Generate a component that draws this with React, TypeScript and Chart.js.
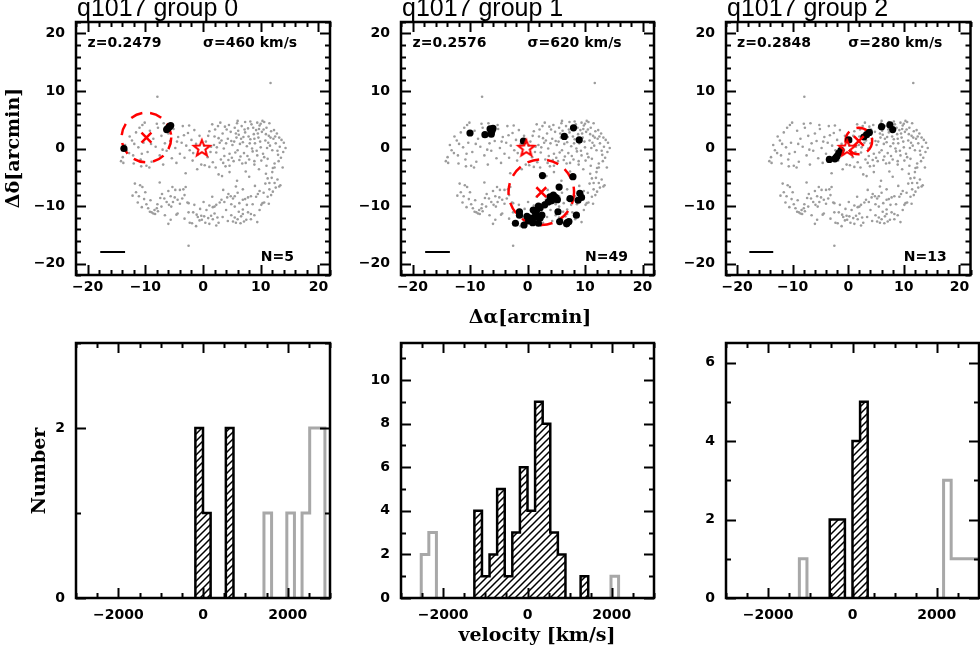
import React, { useEffect, useRef } from "react";
import { Chart, registerables } from "chart.js";
Chart.register(...registerables);

// ---------------- data ----------------
const GROUP_TITLES = ["q1017 group 0", "q1017 group 1", "q1017 group 2"];
const REDSHIFTS = ["0.2479", "0.2576", "0.2848"];
const SIGMAS = [460, 620, 280];
const N_MEMBERS = [5, 49, 13];
const CENTER_X = [-9.8, 2.4, 1.9];
const CENTER_Y = [1.9, -7.6, 1.3];
const RADII = [4.3, 5.7, 2.4];
const STAR_POS: [number, number] = [-0.2, 0.1];
const SCALE_BAR_X = [-17.8, -13.5];
const SCALE_BAR_Y = -18;

const BG_OUTLIERS: [number, number][] = [[11.7, 11.4], [-7.9, 9.0], [-2.5, -16.9]];
const BG_UPPER_LEFT: [number, number][] = [
  [-14.2, -2.2], [-13.9, -1.5], [-13.5, 0.6], [-12.8, -0.8], [-12.3, 1.4], [-12.0, -2.6], [-11.6, 2.8], [-11.2, 0.2],
  [-10.8, -1.9], [-10.5, 4.1], [-10.1, 4.5], [-10.3, 1.0], [-9.6, -0.6], [-9.2, 3.1], [-8.9, -2.3], [-8.6, 1.7],
  [-8.2, 0.3], [-7.8, 3.6], [-7.5, -1.2], [-7.2, 2.2], [-6.9, -2.8], [-6.6, 0.9], [-6.3, -0.4], [-6.0, 2.6],
  [-5.7, 1.3], [-5.4, -1.7], [-5.1, 3.4], [-4.8, 0.1], [-4.6, -2.5], [-4.3, 2.0], [-4.0, -0.9], [-3.7, 1.0],
  [-3.5, 3.9], [-3.2, -1.6], [-2.9, 0.5], [-2.6, 2.7], [-2.3, -0.3], [-2.0, 1.5], [-1.8, -2.1], [-1.5, 3.2],
  [-1.2, 0.8], [-0.9, -1.0], [-0.6, 2.2], [-0.3, -2.8], [-5.2, 4.1], [-6.8, 4.4], [-8.0, 4.3], [-11.0, 3.6],
  [-12.7, 2.1], [-9.8, -3.0], [-3.0, -4.3], [-1.0, -3.6], [-10.7, -3.1], [-9.3, -3.3], [-13.8, -2.5],
  [-13.2, -0.3], [-11.9, 0.8], [-10.6, -0.9], [-9.0, 0.8], [-7.0, -0.2], [-4.5, 1.2], [-3.3, 2.3], [-1.7, -0.8],
  [-2.4, 4.0], [-12.1, -1.2],
];
const BG_UPPER_RIGHT: [number, number][] = [
  [0.5, 1.2], [0.8, -1.5], [1.1, 3.0], [1.4, 0.3], [1.7, -2.4], [2.0, 2.1], [2.3, -0.7], [2.6, 3.9], [2.9, 1.0],
  [3.1, -1.9], [3.4, 2.6], [3.6, 0.0], [3.9, -3.1], [4.1, 3.3], [4.3, 1.7], [4.6, -0.9], [4.8, 2.9], [5.1, 0.6],
  [5.3, -2.2], [5.5, 3.6], [5.8, 1.9], [6.0, -0.3], [6.2, 2.4], [6.5, -1.4], [6.7, 3.9], [6.9, 1.1], [7.1, -0.8],
  [7.3, 2.8], [7.6, 0.4], [7.8, 3.5], [8.0, -1.9], [8.2, 1.6], [8.4, 4.2], [8.6, -0.5], [8.8, 2.5], [9.0, 0.9],
  [9.2, 3.2], [9.4, -1.2], [9.6, 1.9], [9.8, 4.0], [10.0, 0.2], [10.2, 2.9], [10.4, -0.9], [10.6, 4.6], [10.8, 1.4],
  [11.0, 3.6], [11.2, -1.8], [11.4, 2.2], [11.6, 0.5], [11.8, 3.0], [12.0, -0.3], [12.2, 1.7], [12.4, -2.6],
  [12.6, 0.9], [12.8, 2.6], [13.0, -1.1], [13.3, 0.3], [13.6, 1.5], [13.9, -0.6], [14.3, 0.1], [3.0, 4.5], [4.5, 4.1],
  [5.9, 4.4], [7.3, 4.6], [9.4, 4.5], [11.5, 4.4], [10.3, 4.8], [1.6, 4.2], [2.2, -3.3], [6.8, -2.6], [8.9, -2.8],
  [11.0, -3.0], [13.1, -2.2], [12.1, -3.4], [0.3, -2.9], [3.3, -4.8], [7.4, -4.0], [9.7, -3.6], [5.4, 1.2], [6.4, 0.8],
  [7.9, 2.1], [8.7, 3.6], [9.9, 1.2], [10.9, 2.5], [4.0, 0.9], [2.7, 1.8], [1.9, 0.6], [6.1, 3.1], [7.0, 2.0],
  [8.5, 0.0], [9.5, 2.6], [11.3, 1.0], [12.5, 2.1], [3.7, -1.3], [5.0, -1.6], [6.3, -2.0], [10.6, -1.5], [13.2, 1.9],
  [1.1, -3.2], [4.6, -3.0], [7.4, -2.5], [8.9, -2.2], [12.4, -3.3], [13.8, -3.3],
  [0.9, 2.2], [1.3, -0.6], [2.4, 0.2], [3.2, 1.4], [3.8, 3.8], [4.4, -2.0], [4.9, 1.3], [5.6, -0.7], [6.6, 1.7],
  [7.2, 3.3], [7.7, -1.3], [8.1, 0.9], [8.9, 1.7], [9.3, -0.4], [9.7, 3.4], [10.1, -2.1], [10.5, 3.3], [11.1, 0.1],
  [11.7, 1.9], [12.3, 3.2], [12.9, -0.4], [13.5, -1.6], [14.0, 1.0], [6.0, 4.8], [8.2, 4.7], [2.1, 3.3], [0.2, 0.5],
  [3.5, -2.5], [5.7, 2.6], [10.0, 4.3],
];
const BG_LOWER: [number, number][] = [
  [-10.9, -6.4], [-10.5, -6.7], [-7.5, -5.9], [-11.6, -7.6], [-11.1, -8.3], [-10.2, -8.8], [-11.3, -9.4], [-5.3, -6.7],
  [-4.8, -7.2], [-4.0, -7.2], [-3.4, -7.1], [-3.0, -6.7], [-7.1, -7.9], [-6.7, -8.7], [-6.3, -9.3], [-5.9, -9.8],
  [-5.5, -10.1], [-5.6, -8.3], [-4.9, -8.5], [-4.4, -8.9], [-5.2, -9.3], [-9.8, -9.7], [-9.5, -10.4], [-9.2, -11.0],
  [-8.9, -11.1], [-8.6, -11.3], [-8.4, -10.7], [-8.0, -10.4], [-7.9, -9.7], [-7.2, -10.1], [-7.8, -10.9], [-8.3, -11.4],
  [-3.6, -8.7], [-4.0, -9.6], [-2.7, -9.4], [-2.5, -9.5], [-4.4, -11.3], [-4.6, -11.5], [-5.6, -12.4], [-6.0, -13.1],
  [-2.5, -11.1], [-1.7, -11.1], [-1.1, -11.5], [-0.9, -11.9], [-0.3, -11.7], [-0.6, -12.5], [-2.3, -12.9], [-1.9, -13.0],
  [2.7, -4.5], [4.6, -4.1], [8.0, -4.9], [10.9, -4.4], [11.9, -5.1], [10.8, -6.1], [11.5, -6.0], [12.4, -6.0],
  [13.4, -6.4], [11.2, -5.2], [5.7, -6.6], [6.9, -7.1], [6.0, -7.7], [5.5, -8.3], [4.8, -8.3], [4.4, -7.9], [4.2, -8.5],
  [5.2, -8.7], [9.8, -7.4], [9.5, -7.9], [9.2, -8.4], [8.3, -8.3], [7.8, -8.5], [7.3, -8.8], [6.9, -8.9], [11.5, -7.1],
  [12.1, -7.5], [11.8, -8.1], [11.2, -8.4], [12.6, -6.8], [13.2, -6.6], [10.3, -9.5], [10.1, -9.8], [9.8, -10.7],
  [10.6, -9.4], [3.2, -8.9], [2.9, -9.4], [3.7, -9.3], [2.3, -9.8], [2.0, -10.1], [1.7, -10.2], [1.1, -9.9], [0.6, -10.7],
  [4.0, -10.7], [5.5, -10.1], [6.3, -9.5], [6.9, -10.6], [8.3, -11.4], [7.8, -11.1], [4.9, -11.6], [5.5, -12.0],
  [6.0, -12.3], [6.6, -11.8], [6.9, -11.4], [7.5, -12.4], [8.3, -12.3], [8.9, -11.6], [2.0, -11.3], [2.5, -12.0],
  [2.7, -12.9], [1.7, -12.3], [1.4, -11.7], [0.9, -12.1], [0.2, -11.8], [-0.2, -12.4], [0.4, -12.9], [1.1, -13.1],
  [5.2, -12.7], [5.7, -12.9], [6.5, -13.0], [7.1, -12.7],
  [-11.8, -6.1], [-10.0, -7.6], [-9.1, -9.0], [-7.4, -8.6], [-6.0, -7.4], [-3.2, -8.1], [-1.5, -9.8], [-0.5, -10.5],
  [0.1, -9.3], [1.6, -8.4], [3.5, -7.2], [4.9, -9.7], [6.2, -11.0], [7.6, -9.8], [8.6, -9.7], [9.0, -6.5], [10.5, -7.7],
  [12.9, -5.4], [11.4, -9.6], [3.4, -11.9], [4.3, -12.6], [-3.2, -12.2], [-6.6, -11.6], [-10.6, -10.2], [-12.2, -8.2],
  [9.4, -12.8], [2.3, -13.4], [-1.2, -13.5], [5.9, -5.6], [12.0, -4.1],
];

const G0_MEMBERS: [number, number][] = [[-13.7, 0.0], [-6.3, 3.3], [-5.6, 4.0], [-6.1, 3.5], [-5.8, 3.8]];
const G1_MEMBERS: [number, number][] = [
  [-10.0, 2.7], [-7.4, 2.4], [-6.5, 3.4], [-6.0, 3.5], [-6.3, 2.5], [-6.2, 3.0], [-0.7, 1.3], [6.4, 2.1], [8.0, 3.6],
  [9.0, 1.5], [2.6, -4.7], [7.9, -4.9], [5.5, -6.7], [3.9, -8.4], [4.5, -8.1], [4.9, -8.5], [4.2, -9.1], [3.6, -9.3],
  [5.2, -8.9], [7.4, -8.7], [9.1, -7.8], [9.4, -8.5], [8.8, -9.0], [1.9, -10.0], [1.6, -10.7], [1.0, -10.7],
  [2.2, -10.3], [-1.4, -11.0], [5.3, -11.0], [8.5, -11.6], [-0.1, -11.8], [0.5, -12.1], [1.3, -12.0], [2.2, -12.1],
  [2.5, -11.6], [-2.1, -13.0], [-0.6, -13.3], [0.9, -12.9], [1.9, -13.0], [5.6, -12.7], [6.8, -13.1], [7.2, -12.7],
  [-1.4, -11.6], [4.6, -8.6], [1.4, -11.3], [0.2, -12.6], [3.0, -9.8], [4.0, -8.8], [6.9, -12.9],
];
const G2_MEMBERS: [number, number][] = [
  [-3.4, -1.9], [-2.2, -1.6], [-2.0, -1.3], [-1.7, -0.8], [-1.3, -0.3], [0.1, 1.5], [2.8, 2.0], [3.3, 2.4],
  [3.8, 2.8], [6.0, 3.8], [7.5, 4.1], [8.0, 3.3], [-2.4, -1.8],
];

// velocity histograms (bin left edges, km/s, and counts)
const BIN_WIDTH = 180;
const G0_MEM_BINS = [-180, 0, 540];
const G0_MEM_COUNTS = [2, 1, 2];
const G0_NON_BINS = [1440, 1980, 2340, 2520, 2700];
const G0_NON_COUNTS = [1, 1, 1, 2, 2];
const G1_MEM_BINS = [-1260, -1080, -900, -720, -540, -360, -180, 0, 180, 360, 540, 720, 1260];
const G1_MEM_COUNTS = [4, 1, 2, 5, 1, 3, 6, 4, 9, 8, 3, 2, 1];
const G1_NON_BINS = [-2520, -2340, 1980];
const G1_NON_COUNTS = [2, 3, 1];
const G2_MEM_BINS = [-540, -360, 0, 180];
const G2_MEM_COUNTS = [2, 2, 4, 5];
const G2_NON_BINS = [-1260, 2160, 2340, 2520, 2700, 2880];
const G2_NON_COUNTS = [1, 3, 1, 1, 1, 1];
const HIST_YMAX = [3, 11.7, 6.5];
const HIST_YLABELS = [[0, 2], [0, 2, 4, 6, 8, 10], [0, 2, 4, 6]];
const VEL_LABELS = [-2000, 0, 2000];
const POS_LABELS = [-20, -10, 0, 10, 20];

// ---------------- layout ----------------
const W = 980, H = 653;
const COL_L = [76, 401, 726];
const COL_R = [330, 654, 979];
const TOP_T = 22, TOP_B = 275, BOT_T = 343, BOT_B = 598;
const TICK_FONT = 'bold 14px "DejaVu Sans"';
const LABEL_FONT = 'bold 19px "DejaVu Serif"';

const fmt = (v: number) => (v < 0 ? "\u2212" + Math.abs(v) : String(v));
const steps = (min: number, max: number, step: number) => {
  const out: number[] = [];
  for (let i = Math.ceil(min / step - 1e-9); i <= Math.floor(max / step + 1e-9); i++) out.push(i * step);
  return out;
};
const isMul = (v: number, m: number) => Math.abs(v / m - Math.round(v / m)) < 1e-6;

type FrameCfg = {
  xMinor: number; xMajor: number; yMinor: number; yMajor: number;
  xLabels: number[]; yLabels: number[]; xLabelY: number;
  circle?: { cx: number; cy: number; r: number };
  extra?: (chart: any) => void;
};

function framePlugin(cfg: FrameCfg) {
  return {
    id: "frame",
    afterDatasetDraw(chart: any, args: any) {
      if (!cfg.circle || args.index !== 0) return;
      const { ctx, scales } = chart;
      const x = scales.x, y = scales.y;
      const px = x.getPixelForValue(cfg.circle.cx);
      const py = y.getPixelForValue(cfg.circle.cy);
      const r = Math.abs(x.getPixelForValue(cfg.circle.cx + cfg.circle.r) - px);
      ctx.save();
      ctx.strokeStyle = "#ff0000";
      ctx.lineWidth = 2.5;
      ctx.setLineDash([12, 8]);
      ctx.beginPath();
      ctx.arc(px, py, r, 0, Math.PI * 2);
      ctx.stroke();
      ctx.restore();
    },
    afterDraw(chart: any) {
      const { ctx, chartArea: a, scales } = chart;
      const x = scales.x, y = scales.y;
      ctx.save();
      ctx.strokeStyle = "#000";
      ctx.lineWidth = 2;
      ctx.beginPath();
      for (const v of steps(x.min, x.max, cfg.xMinor)) {
        const p = Math.round(x.getPixelForValue(v)) + 0.5;
        const len = isMul(v, cfg.xMajor) ? 10 : 5;
        ctx.moveTo(p, a.bottom); ctx.lineTo(p, a.bottom - len);
        ctx.moveTo(p, a.top); ctx.lineTo(p, a.top + len);
      }
      for (const v of steps(y.min, y.max, cfg.yMinor)) {
        const p = Math.round(y.getPixelForValue(v)) + 0.5;
        const len = isMul(v, cfg.yMajor) ? 10 : 5;
        ctx.moveTo(a.left, p); ctx.lineTo(a.left + len, p);
        ctx.moveTo(a.right, p); ctx.lineTo(a.right - len, p);
      }
      ctx.stroke();
      ctx.lineWidth = 2.5;
      ctx.strokeRect(a.left, a.top, a.right - a.left, a.bottom - a.top);
      ctx.fillStyle = "#000";
      ctx.font = TICK_FONT;
      ctx.textAlign = "center";
      ctx.textBaseline = "middle";
      for (const v of cfg.xLabels) ctx.fillText(fmt(v), x.getPixelForValue(v), cfg.xLabelY);
      ctx.textAlign = "right";
      for (const v of cfg.yLabels) ctx.fillText(fmt(v), a.left - 11, y.getPixelForValue(v));
      if (cfg.extra) cfg.extra(chart);
      ctx.restore();
    },
  };
}

function makeStar(): HTMLCanvasElement {
  const c = document.createElement("canvas");
  c.width = 24; c.height = 24;
  const g = c.getContext("2d")!;
  g.strokeStyle = "#ff0000";
  g.lineWidth = 2;
  g.beginPath();
  for (let i = 0; i < 10; i++) {
    const r = i % 2 === 0 ? 8.5 : 3.6;
    const ang = -Math.PI / 2 + (i * Math.PI) / 5;
    const px = 12 + r * Math.cos(ang), py = 12.5 + r * Math.sin(ang);
    if (i === 0) g.moveTo(px, py); else g.lineTo(px, py);
  }
  g.closePath();
  g.stroke();
  return c;
}

function makeHatch(ctx: CanvasRenderingContext2D) {
  const s = 7;
  const c = document.createElement("canvas");
  c.width = s; c.height = s;
  const g = c.getContext("2d")!;
  g.strokeStyle = "#000";
  g.lineWidth = 1.5;
  g.beginPath();
  g.moveTo(-1, s + 1); g.lineTo(s + 1, -1);
  g.moveTo(-1, 1); g.lineTo(1, -1);
  g.moveTo(s - 1, s + 1); g.lineTo(s + 1, s - 1);
  g.stroke();
  return ctx.createPattern(c, "repeat");
}

function histPoints(bins: number[], counts: number[]) {
  const pts: any[] = [];
  let i = 0;
  while (i < bins.length) {
    let j = i;
    while (j + 1 < bins.length && bins[j + 1] === bins[j] + BIN_WIDTH) j++;
    if (pts.length) pts.push({ x: bins[i] - 1, y: null });
    pts.push({ x: bins[i], y: 0 });
    for (let k = i; k <= j; k++) pts.push({ x: bins[k], y: counts[k] });
    pts.push({ x: bins[j] + BIN_WIDTH, y: 0 });
    i = j + 1;
  }
  return pts;
}

const toXY = (arr: [number, number][]) => arr.map(([x, y]) => ({ x, y }));
const MEMBERS = [G0_MEMBERS, G1_MEMBERS, G2_MEMBERS];
const MEM_BINS = [G0_MEM_BINS, G1_MEM_BINS, G2_MEM_BINS];
const MEM_COUNTS = [G0_MEM_COUNTS, G1_MEM_COUNTS, G2_MEM_COUNTS];
const NON_BINS = [G0_NON_BINS, G1_NON_BINS, G2_NON_BINS];
const NON_COUNTS = [G0_NON_COUNTS, G1_NON_COUNTS, G2_NON_COUNTS];

function baseOptions(col: number, top: number, bottom: number, xr: number, y0: number, y1: number) {
  return {
    animation: false,
    responsive: false,
    devicePixelRatio: 1,
    events: [],
    layout: { padding: { left: COL_L[col], right: W - COL_R[col], top, bottom: H - bottom } },
    scales: {
      x: { type: "linear", min: -xr, max: xr, display: false },
      y: { type: "linear", min: y0, max: y1, display: false },
    },
    plugins: { legend: { display: false }, tooltip: { enabled: false } },
  };
}

function scatterConfig(g: number) {
  const bg = [...BG_UPPER_LEFT, ...BG_UPPER_RIGHT, ...BG_LOWER, ...BG_OUTLIERS];
  const star = makeStar();
  return {
    type: "scatter",
    data: {
      datasets: [
        { data: toXY(bg), pointRadius: 1.3, pointBackgroundColor: "#9c9c9c", pointBorderWidth: 0, order: 5 },
        {
          data: [{ x: SCALE_BAR_X[0], y: SCALE_BAR_Y }, { x: SCALE_BAR_X[1], y: SCALE_BAR_Y }],
          showLine: true, borderColor: "#000", borderWidth: 2, pointRadius: 0, order: 4,
        },
        { data: toXY(MEMBERS[g]), pointRadius: 3.6, pointBackgroundColor: "#000", pointBorderWidth: 0, order: 3 },
        {
          data: [{ x: CENTER_X[g], y: CENTER_Y[g] }], pointStyle: "crossRot", pointRadius: 7,
          pointBorderColor: "#ff0000", pointBorderWidth: 2.5, order: 2,
        },
        { data: [{ x: STAR_POS[0], y: STAR_POS[1] }], pointStyle: star, pointRadius: 8, order: 1 },
      ],
    },
    options: baseOptions(g, TOP_T, TOP_B, 22, -22, 22),
    plugins: [
      framePlugin({
        xMinor: 2, xMajor: 10, yMinor: 2, yMajor: 10, xLabels: POS_LABELS, yLabels: POS_LABELS, xLabelY: 287,
        circle: { cx: CENTER_X[g], cy: CENTER_Y[g], r: RADII[g] },
        extra: (chart: any) => {
          const { ctx, scales } = chart;
          const x = scales.x, y = scales.y;
          ctx.textAlign = "left";
          ctx.textBaseline = "middle";
          ctx.font = 'bold 14px "DejaVu Sans"';
          ctx.fillText("z=" + REDSHIFTS[g], x.getPixelForValue(-20), y.getPixelForValue(18.2));
          ctx.fillText("\u03c3=" + SIGMAS[g] + " km/s", x.getPixelForValue(0), y.getPixelForValue(18.2));
          ctx.fillText("N=" + N_MEMBERS[g], x.getPixelForValue(10), y.getPixelForValue(-19));
          ctx.font = '25px "Liberation Sans"';
          ctx.textBaseline = "alphabetic";
          ctx.fillText(GROUP_TITLES[g], COL_L[g] + 1, 16);
          if (g === 0) {
            ctx.save();
            ctx.font = LABEL_FONT;
            ctx.textAlign = "center";
            ctx.textBaseline = "middle";
            ctx.translate(14, 148);
            ctx.rotate(-Math.PI / 2);
            ctx.fillText("\u0394\u03b4[arcmin]", 0, 0);
            ctx.restore();
          }
          if (g === 1) {
            ctx.font = LABEL_FONT;
            ctx.textAlign = "center";
            ctx.textBaseline = "middle";
            ctx.fillText("\u0394\u03b1[arcmin]", 530, 318);
          }
        },
      }),
    ],
  };
}

function histConfig(g: number, canvas: HTMLCanvasElement) {
  const hatch = makeHatch(canvas.getContext("2d")!);
  return {
    type: "line",
    data: {
      datasets: [
        {
          data: histPoints(MEM_BINS[g], MEM_COUNTS[g]), stepped: "before", borderColor: "#000", borderWidth: 2.5,
          pointRadius: 0, fill: "origin", backgroundColor: hatch, spanGaps: false, order: 1,
        },
        {
          data: histPoints(NON_BINS[g], NON_COUNTS[g]), stepped: "before", borderColor: "#a8a8a8", borderWidth: 3,
          pointRadius: 0, fill: false, spanGaps: false, order: 2,
        },
      ],
    },
    options: baseOptions(g, BOT_T, BOT_B, 3000, 0, HIST_YMAX[g]),
    plugins: [
      framePlugin({
        xMinor: 500, xMajor: 2000, yMinor: 1, yMajor: 2, xLabels: VEL_LABELS, yLabels: HIST_YLABELS[g], xLabelY: 615,
        extra: (chart: any) => {
          const { ctx } = chart;
          ctx.textAlign = "center";
          ctx.textBaseline = "middle";
          ctx.font = LABEL_FONT;
          if (g === 0) {
            ctx.save();
            ctx.translate(40, 471);
            ctx.rotate(-Math.PI / 2);
            ctx.fillText("Number", 0, 0);
            ctx.restore();
          }
          if (g === 1) ctx.fillText("velocity [km/s]", 537, 636);
        },
      }),
    ],
  };
}

function Panel({ kind, g }: { kind: "scatter" | "hist"; g: number }) {
  const ref = useRef<HTMLCanvasElement | null>(null);
  useEffect(() => {
    const canvas = ref.current!;
    const cfg: any = kind === "scatter" ? scatterConfig(g) : histConfig(g, canvas);
    const chart = new Chart(canvas, cfg);
    return () => chart.destroy();
  }, [kind, g]);
  return (
    <canvas
      ref={ref}
      width={W}
      height={H}
      style={{ position: "absolute", left: 0, top: 0, width: W, height: H }}
    />
  );
}

export default function App() {
  return (
    <div style={{ position: "fixed", left: 0, top: 0, width: W, height: H, background: "#fff", overflow: "hidden" }}>
      {[0, 1, 2].map((g) => (
        <Panel key={"s" + g} kind="scatter" g={g} />
      ))}
      {[0, 1, 2].map((g) => (
        <Panel key={"h" + g} kind="hist" g={g} />
      ))}
    </div>
  );
}
